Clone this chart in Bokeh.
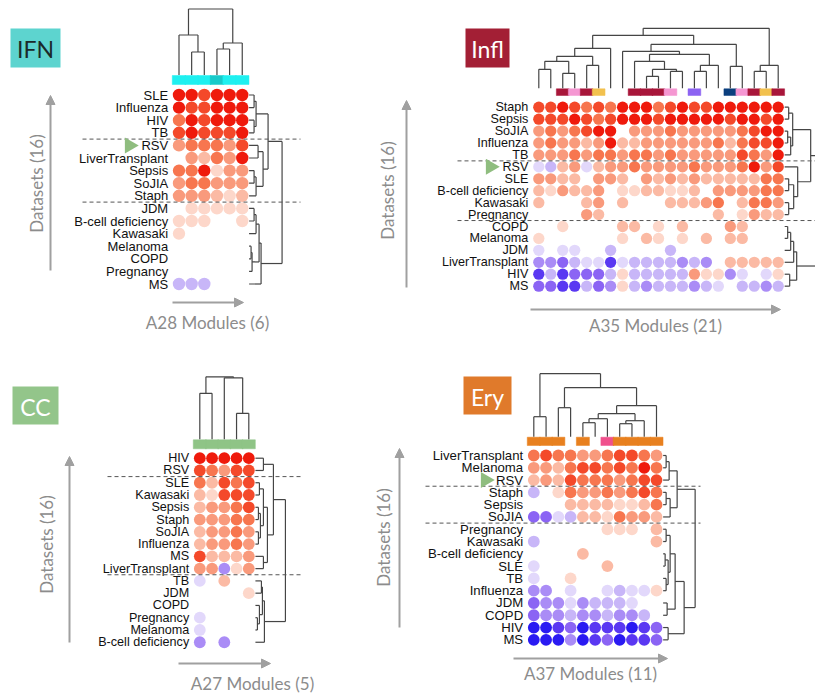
import numpy as np
from bokeh.plotting import figure
from bokeh.models import Range1d, Arrow, NormalHead, ColumnDataSource, LinearColorMapper
from bokeh.transform import transform
from bokeh.core.properties import value
from bokeh.embed import file_html
from bokeh.resources import INLINE

# ---------------- DATA ----------------
# values: +1..+6 = over-expressed (light pink -> red), -1..-6 = under-expressed (lavender -> blue), 0 = none
IFN_ROWS = ["SLE", "Influenza", "HIV", "TB", "RSV", "LiverTransplant", "Sepsis", "SoJIA", "Staph",
            "JDM", "B-cell deficiency", "Kawasaki", "Melanoma", "COPD", "Pregnancy", "MS"]
IFN_VALUES = [
    [6, 6, 5, 6, 6, 6],
    [6, 5, 5, 6, 6, 6],
    [4, 6, 5, 6, 6, 6],
    [5, 6, 5, 5, 5, 6],
    [3, 4, 4, 4, 3, 5],
    [0, 3, 2, 4, 3, 6],
    [4, 4, 6, 1, 3, 3],
    [3, 4, 4, 3, 3, 3],
    [3, 3, 3, 2, 1, 2],
    [0, 1, 1, 1, 1, 1],
    [1, 1, 1, 0, 0, 1],
    [1, 0, 0, 0, 0, 0],
    [0, 0, 0, 0, 0, 0],
    [0, 0, 0, 0, 0, 0],
    [0, 0, 0, 0, 0, 0],
    [-2, -2, -2, 0, 0, 0],
]
IFN_BAR = ["#1ff0f0", "#1ff0f0", "#1ff0f0", "#18caca", "#1ff0f0", "#1ff0f0"]
IFN_COL_TREE = (66, (40, 0, (23, 1, 2)), (32, (26, 3, 4), 5))
IFN_ROW_TREE = (33, (19, (7, (5, 0, 1), (5, 2, 3)), (14, (9, 4, 5), (7, (5, 6, 7), 8))),
                (12, (10, (7, (5, 9, 10), 11), (3, (2, 12, 13), 14)), 15))
IFN_SPLITS = [3, 8]

INFL_ROWS = ["Staph", "Sepsis", "SoJIA", "Influenza", "TB", "RSV", "SLE", "B-cell deficiency", "Kawasaki",
             "Pregnancy", "COPD", "Melanoma", "JDM", "LiverTransplant", "HIV", "MS"]
INFL_VALUES = [
    [5, 5, 6, 5, 4, 5, 4, 6, 6, 6, 4, 5, 6, 5, 5, 6, 6, 6, 6, 6, 6],
    [5, 5, 5, 6, 5, 4, 5, 6, 6, 6, 5, 6, 6, 6, 6, 6, 5, 6, 6, 5, 6],
    [3, 4, 3, 4, 5, 6, 6, 0, 3, 3, 3, 4, 3, 3, 3, 3, 3, 4, 5, 6, 6],
    [3, 4, 3, 3, 2, 3, 6, 2, 2, 3, 3, 3, 3, 3, 3, 4, 2, 4, 5, 5, 6],
    [3, 3, 3, 4, 3, 4, 4, 3, 4, 4, 3, 4, 3, 3, 3, 3, 3, 5, 4, 3, 6],
    [-1, -2, 2, 3, -1, 2, 3, 3, 4, 3, 3, 3, 3, 4, 3, 3, 3, 4, 6, 3, 5],
    [3, 3, 2, 2, 0, 3, 3, 2, 0, 3, 2, 3, 2, 3, 2, 2, 2, 2, 2, 4, 4],
    [2, 1, 3, 2, 2, 3, 0, 1, 1, 2, 2, 1, 1, 2, 0, 3, 3, 3, 3, 4, 4],
    [2, 0, 0, 0, 2, 3, 0, 2, 0, 0, 0, 2, 2, 2, 3, 4, 0, 2, 4, 4, 3],
    [0, 0, 0, 0, 3, 2, 0, 0, 0, 0, 0, 0, 0, 0, 0, 2, 0, 1, 3, 2, 2],
    [0, 0, 1, 0, 0, 0, 0, 2, 2, 0, 1, 0, 2, 0, 0, 0, 3, 2, 0, 0, 0],
    [1, 0, 0, 0, 0, 0, 0, 1, 0, 2, 1, 0, 1, 0, 2, 0, 2, 2, 0, 0, 0],
    [-1, 0, -1, -1, 0, 0, -2, 0, 0, 0, 0, -2, 0, 0, 0, 0, 0, 0, 0, 0, 0],
    [-3, -3, -4, -2, -1, -1, -5, -1, -2, -2, -2, -2, -3, -2, -3, 0, 2, 2, 2, 2, 2],
    [-5, -2, -5, -4, -4, -4, -2, 1, -2, -2, -2, -2, -2, 3, 1, 1, -3, -1, 0, -1, 1],
    [-4, -4, -5, -5, -2, -4, -3, 1, -2, -3, -2, -2, -2, -3, -2, -1, 0, -2, -2, -3, -2],
]
DR, PK, YL, PU, NV = "#a8163a", "#f597d2", "#f2c14e", "#8c63f2", "#0b3f7e"
INFL_BAR = [None, None, DR, PK, DR, YL, None, None, DR, DR, DR, PK, None, PU, None, None, NV, PK, DR, YL, DR]
INFL_COL_TREE = (60, (53, (40, (32, (27, (19, 0, 1), (15, 2, 3)), (23, 4, 5)), 6),
                     (44, (37, 7, (34, (27, 8, (19, (12, 9, 10), (17, 11, 12))), (23, (17, 13, 14), 15))),
                      (22, 16, 17))),
                 (23, (17, 18, 19), 20))
INFL_ROW_TREE = (34, (26, (8, (4, 0, 1), (6, (3, 2, 3), 4)), (13, 5, (9, (4, 6, 7), (4, 8, 9)))),
                 (12, (9, (6, (3, 10, 11), 12), 13), (5, 14, 15)))
INFL_SPLITS = [4, 9]

CC_ROWS = ["HIV", "RSV", "SLE", "Kawasaki", "Sepsis", "Staph", "SoJIA", "Influenza", "MS", "LiverTransplant",
           "TB", "JDM", "COPD", "Pregnancy", "Melanoma", "B-cell deficiency"]
CC_VALUES = [
    [6, 6, 6, 6, 6],
    [5, 4, 3, 5, 5],
    [4, 2, 5, 4, 5],
    [2, 1, 5, 5, 5],
    [2, 3, 3, 4, 5],
    [3, 3, 3, 4, 4],
    [2, 3, 3, 4, 3],
    [2, 3, 3, 4, 3],
    [5, 2, 2, 2, 3],
    [3, 3, -3, 1, 3],
    [-1, 0, 2, 0, 0],
    [0, 0, 0, 0, 1],
    [0, 0, 0, 0, 0],
    [-1, 0, 0, 0, 0],
    [-1, 0, 0, 0, 0],
    [-3, 0, -3, 0, 0],
]
CC_BAR = ["#8fc486"] * 5
CC_COL_TREE = (62.5, (46, 0, 1), (61.5, 2, (26, 3, 4)))
CC_ROW_TREE = (30, (18, (8, 0, 1), (12, (8, (4, 2, 3), (5, (3, 4, 5), (3, 6, 7))), (8, 8, 9))),
               (9, (7, (6, 10, 11), (4, 12, (2, 13, 14))), 15))
CC_SPLITS = [1, 9]

ERY_ROWS = ["LiverTransplant", "Melanoma", "RSV", "Staph", "Sepsis", "SoJIA", "Pregnancy", "Kawasaki",
            "B-cell deficiency", "SLE", "TB", "Influenza", "JDM", "COPD", "HIV", "MS"]
ERY_VALUES = [
    [4, 5, 4, 4, 3, 3, 4, 5, 5, 4, 3],
    [3, 3, 2, 4, 5, 5, 4, 5, 4, 6, 4],
    [2, 3, 2, 5, 4, 4, 4, 3, 4, 5, 5],
    [-2, 0, 1, 4, 3, 3, 4, 3, 4, 5, 4],
    [0, 0, 0, 2, 2, 2, 2, 1, 1, 2, 4],
    [-4, -4, -1, -2, 2, 2, 1, 4, 3, 3, 2],
    [0, 0, 0, 0, 0, 0, 1, 1, 1, 0, 2],
    [-2, 0, 0, 0, 0, 0, 0, 0, 0, 0, 2],
    [0, 0, 0, 0, 2, 0, 0, 0, 0, 0, 0],
    [-1, 0, 0, 0, 0, 0, 2, 0, 0, 0, 0],
    [-1, 0, 0, 1, 0, 0, 0, 0, 0, 0, 0],
    [-3, -3, 0, -1, 0, 0, -1, -2, -1, -1, 1],
    [-4, -3, -3, -1, -3, -2, -2, -2, -1, 0, 0],
    [-4, -3, -3, -2, -3, -3, -2, -3, -3, -2, 0],
    [-6, -6, -5, -4, -6, -5, -5, -5, -6, -5, -4],
    [-6, -6, -6, -3, -6, -5, -4, -6, -5, -5, -4],
]
OR, PI = "#e8801f", "#f0508c"
ERY_BAR = [OR, OR, OR, None, OR, None, PI, OR, OR, OR, OR]
ERY_COL_TREE = (63, (20, 0, 1), (49, (29, 2, 3), (31, (23, (18, (14, 4, 5), 6), (16, (13, 7, 8), 9)), 10)))
ERY_ROW_TREE = (32, (14, (6, (3, 0, 1), 2), (7, (3, 3, 4), 5)),
                (21, (12, (7, (3, 6, 7), (5, (2, 8, 9), (3, 10, 11))), (4, 12, 13)), (5, 14, 15)))
ERY_SPLITS = [2, 5]

PALETTE = ["#2a1af2", "#5a38f2", "#8b64f4", "#aa8cf6", "#c8b6f8", "#e2d8fb", "#ffffff",
           "#fdd7ca", "#fbbaa4", "#f99a7c", "#f7764f", "#f4492a", "#ef1a0c"]

# ---------------- FIGURE ----------------
W, H = 815, 696
p = figure(width=W, height=H, x_range=Range1d(0, W), y_range=Range1d(H, 0),
           toolbar_location=None, output_backend="svg", min_border=0,
           x_axis_type=None, y_axis_type=None)
p.grid.visible = False
p.outline_line_color = None
p.background_fill_color = "white"

mapper = LinearColorMapper(palette=PALETTE, low=-6.5, high=6.5)

LABEL_FONT = value("Liberation Sans")
TITLE_FONT = value("Lato")

panels = [
    dict(rows=IFN_ROWS, vals=IFN_VALUES, bar=IFN_BAR, ctree=IFN_COL_TREE, rtree=IFN_ROW_TREE, splits=IFN_SPLITS,
         x0=178.5, dx=12.65, y0=94.5, dy=12.6, dot=12.4, bar_y=(75, 84), lab_fs="13px",
         dash_x=(82, 300), tri=True, tri_x=129,
         box=(10, 28, 60, 67), box_col="#5dd4cf", box_txt="IFN", box_txt_col="#1b2a2a", box_fs="23px",
         varrow=(50, 270, 95), vtxt=(36, 183), harrow=(302, 172, 243), htxt=(207, 322), xlabel="A28 Modules (6)"),
    dict(rows=INFL_ROWS, vals=INFL_VALUES, bar=INFL_BAR, ctree=INFL_COL_TREE, rtree=INFL_ROW_TREE, splits=INFL_SPLITS,
         x0=538.3, dx=11.97, y0=106.7, dy=11.93, dot=11.3, bar_y=(88.3, 95), lab_fs="12.6px",
         dash_x=(457, 815), tri=True, tri_x=490,
         box=(465, 28, 509, 67), box_col="#a31f35", box_txt="Infl", box_txt_col="white", box_fs="23px",
         varrow=(406, 287, 100), vtxt=(387, 190), harrow=(309, 530, 780), htxt=(655, 325), xlabel="A35 Modules (21)"),
    dict(rows=CC_ROWS, vals=CC_VALUES, bar=CC_BAR, ctree=CC_COL_TREE, rtree=CC_ROW_TREE, splits=CC_SPLITS,
         x0=199.3, dx=12.25, y0=457.7, dy=12.27, dot=11.8, bar_y=(439.3, 448.3), lab_fs="12.6px",
         dash_x=(107, 300), tri=False, tri_x=0,
         box=(12, 386, 58, 424), box_col="#93c58a", box_txt="CC", box_txt_col="white", box_fs="23px",
         varrow=(69, 642, 456), vtxt=(46, 544), harrow=(663, 178, 270), htxt=(252, 683), xlabel="A27 Modules (5)"),
    dict(rows=ERY_ROWS, vals=ERY_VALUES, bar=ERY_BAR, ctree=ERY_COL_TREE, rtree=ERY_ROW_TREE, splits=ERY_SPLITS,
         x0=533.3, dx=12.27, y0=455.0, dy=12.29, dot=11.8, bar_y=(436.7, 445), lab_fs="13.2px",
         dash_x=(425, 700), tri=True, tri_x=485,
         box=(463, 376, 511, 414), box_col="#e07a2b", box_txt="Ery", box_txt_col="white", box_fs="23px",
         varrow=(399, 627, 448), vtxt=(383, 537), harrow=(658, 513, 667), htxt=(590, 673), xlabel="A37 Modules (11)"),
]


def dendro(tree, leaf_pos, base, orient):
    segs = []

    def walk(node):
        if isinstance(node, int):
            return leaf_pos[node], 0.0
        h, a, b = node
        pa, ha = walk(a)
        pb, hb = walk(b)
        segs.append((pa, ha, pa, h))
        segs.append((pb, hb, pb, h))
        segs.append((pa, h, pb, h))
        return (pa + pb) / 2.0, h

    walk(tree)
    x0s, y0s, x1s, y1s = [], [], [], []
    for pa, ha, pb, hb in segs:
        if orient == "top":
            x0s.append(pa); y0s.append(base - ha); x1s.append(pb); y1s.append(base - hb)
        else:
            x0s.append(base + ha); y0s.append(pa); x1s.append(base + hb); y1s.append(pb)
    p.segment(x0=x0s, y0=y0s, x1=x1s, y1=y1s, line_color="#454545", line_width=1.2)


for P in panels:
    rows, vals = P["rows"], P["vals"]
    ncol = len(vals[0])
    xs_col = [P["x0"] + j * P["dx"] for j in range(ncol)]
    ys_row = [P["y0"] + i * P["dy"] for i in range(len(rows))]

    # dots
    dx_, dy_, dv = [], [], []
    for i, r in enumerate(vals):
        for j, v in enumerate(r):
            if v != 0:
                dx_.append(xs_col[j]); dy_.append(ys_row[i]); dv.append(v)
    src = ColumnDataSource(dict(x=dx_, y=dy_, v=dv))
    p.scatter("x", "y", source=src, size=P["dot"], marker="circle",
              fill_color=transform("v", mapper), line_color=None)

    # row labels
    p.text(x=[P["x0"] - P["dx"] * 0.5 - 4.5] * len(rows), y=ys_row, text=rows,
           text_align="right", text_baseline="middle", text_font=LABEL_FONT,
           text_font_size=P["lab_fs"], text_color="#111111")

    # module annotation bar (cells overlap slightly so there are no seams)
    bl, br, bc = [], [], []
    for j, c in enumerate(P["bar"]):
        if c is not None:
            bl.append(xs_col[j] - P["dx"] / 2 - 0.4); br.append(xs_col[j] + P["dx"] / 2 + 0.4); bc.append(c)
    p.quad(left=bl, right=br, top=[P["bar_y"][0]] * len(bl), bottom=[P["bar_y"][1]] * len(bl),
           fill_color=bc, line_color=bc, line_width=0.5)

    # dendrograms
    dendro(P["ctree"], xs_col, P["bar_y"][0] - 0.5, "top")
    dendro(P["rtree"], ys_row, xs_col[-1] + P["dx"] / 2 + 0.5, "right")

    # split dashed lines
    for s in P["splits"]:
        yy = (ys_row[s] + ys_row[s + 1]) / 2
        p.line(x=list(P["dash_x"]), y=[yy, yy], line_color="#555555", line_width=1, line_dash="4 3")

    # RSV marker
    if P["tri"]:
        ri = rows.index("RSV")
        p.scatter(x=[P["tri_x"]], y=[ys_row[ri]], marker="triangle", size=16, angle=-np.pi / 2,
                  fill_color="#8fbd7f", line_color=None)

    # title box
    bx0, by0, bx1, by1 = P["box"]
    p.quad(left=[bx0], right=[bx1], top=[by0], bottom=[by1], fill_color=P["box_col"], line_color=None)
    p.text(x=[(bx0 + bx1) / 2], y=[(by0 + by1) / 2 + 1], text=[P["box_txt"]], text_align="center",
           text_baseline="middle", text_font=TITLE_FONT, text_font_size=P["box_fs"], text_color=P["box_txt_col"])

    # axis arrows + titles
    vx, vy0, vy1 = P["varrow"]
    p.add_layout(Arrow(x_start=vx, y_start=vy0, x_end=vx, y_end=vy1, line_color="#a0a0a0", line_width=2,
                       end=NormalHead(size=9, fill_color="#a0a0a0", line_color="#a0a0a0")))
    p.text(x=[P["vtxt"][0]], y=[P["vtxt"][1]], text=["Datasets (16)"], angle=np.pi / 2,
           text_align="center", text_baseline="middle", text_font=TITLE_FONT, text_font_size="17px",
           text_color="#8c8c8c")
    hy, hx0, hx1 = P["harrow"]
    p.add_layout(Arrow(x_start=hx0, y_start=hy, x_end=hx1, y_end=hy, line_color="#a0a0a0", line_width=2,
                       end=NormalHead(size=9, fill_color="#a0a0a0", line_color="#a0a0a0")))
    p.text(x=[P["htxt"][0]], y=[P["htxt"][1]], text=[P["xlabel"]], text_align="center",
           text_baseline="middle", text_font=TITLE_FONT, text_font_size="17px", text_color="#8c8c8c")

open("out.html", "w").write(file_html(p, INLINE))
